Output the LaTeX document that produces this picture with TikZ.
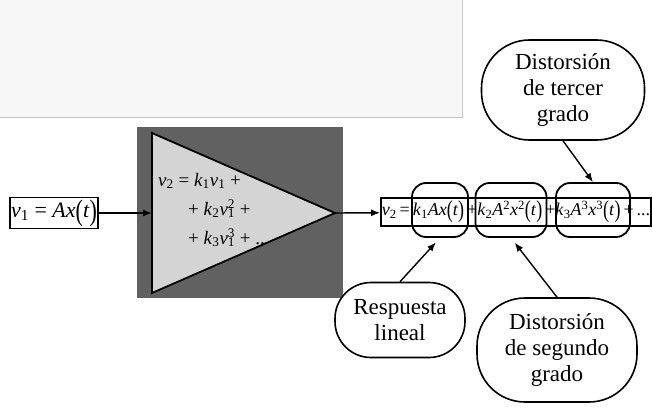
\documentclass[tikz,border=0pt]{standalone}
\usepackage{fontspec}
\setmainfont{Liberation Serif}
\usetikzlibrary{arrows.meta}
\newcommand\va[2]{\textit{#1}\textsubscript{#2}}
\newcommand\vb[3]{\textit{#1}\textsubscript{#2}\llap{\textsuperscript{#3}}}
\newcommand\pa[1]{\raisebox{-0.12em}{\scalebox{1}[1.35]{(}}\textit{#1}\raisebox{-0.12em}{\scalebox{1}[1.35]{)}}}
\begin{document}
\begin{tikzpicture}[x=1pt, y=-1pt,
        caja/.style={draw, line width=1.8pt, inner sep=1pt},
        term/.style={draw, line width=1.8pt, rounded corners=14pt, minimum height=54pt},
        globo/.style={draw, line width=1.6pt, align=center,
          font=\fontsize{23}{26}\selectfont},
        fl/.style={-{Latex[length=9pt,width=7pt]}, line width=1.4pt}
      ]
      \useasboundingbox (0,0) rectangle (652,412);
      % fondo claro arriba
      \fill[black!3] (0,0) rectangle (462,117);
      \draw[black!22] (462,0) -- (462,117) -- (0,117);
      % amplificador
      \fill[black!62] (137,127) rectangle (343,298);
      \draw[line width=1.8pt, fill=black!17] (152,133) -- (335,213) -- (152,293) -- cycle;
      \coordinate (ampin) at (152,213);
      \coordinate (ampout) at (335,213);
      \node[anchor=base west, inner sep=0pt, align=left, font=\fontsize{19}{29}\selectfont] (ec) at (158,244)
        {\va{v}{2} = \va{k}{1}\va{v}{1} +\\
         \hspace{30pt}+ \va{k}{2}\vb{v}{1}{2} +\\
         \hspace{30pt}+ \va{k}{3}\vb{v}{1}{3} + ..};
      % entrada y salida
      \node[caja, minimum width=88pt, minimum height=31pt, inner sep=0pt, font=\fontsize{22}{24}\selectfont] (ent) at (54,213)
        {\va{v}{1} = \textit{Ax}\pa{t}};
      \node[caja, minimum width=270pt, minimum height=28pt, inner sep=0pt, font=\fontsize{18}{20}\selectfont] (sal) at (516,212)
        {\va{v}{2}\,=\,\va{k}{1}\textit{Ax}\pa{t}\,+\va{k}{2}\textit{A}\textsuperscript{2}\textit{x}\textsuperscript{2}\pa{t}\,+\va{k}{3}\textit{A}\textsuperscript{3}\textit{x}\textsuperscript{3}\pa{t}\,+\,...};
      \draw[fl] (ent) -- (ampin);
      \draw[fl] (ampout) -- (sal);
      % terminos
      \node[term, minimum width=56pt] (t1) at (440,210) {};
      \node[term, minimum width=71pt] (t2) at (511,210) {};
      \node[term, minimum width=74pt] (t3) at (593,210) {};
      % globos
      \node[globo, rounded corners=36pt, minimum width=130pt, minimum height=75pt] (resp) at (400,320) {Respuesta\\lineal};
      \node[globo, rounded corners=48pt, minimum width=160pt, minimum height=104pt] (seg) at (557,350) {Distorsión\\de segundo\\grado};
      \node[globo, rounded corners=48pt, minimum width=163pt, minimum height=100pt] (ter) at (563,90) {Distorsión\\de tercer\\grado};
      \draw[fl, shorten >=6pt] (resp.north) -- (t1.south);
      \draw[fl, shorten >=6pt] (seg.north) -- (t2.south);
      \draw[fl] (ter.south) -- (t3.north);
    \end{tikzpicture}
\end{document}
